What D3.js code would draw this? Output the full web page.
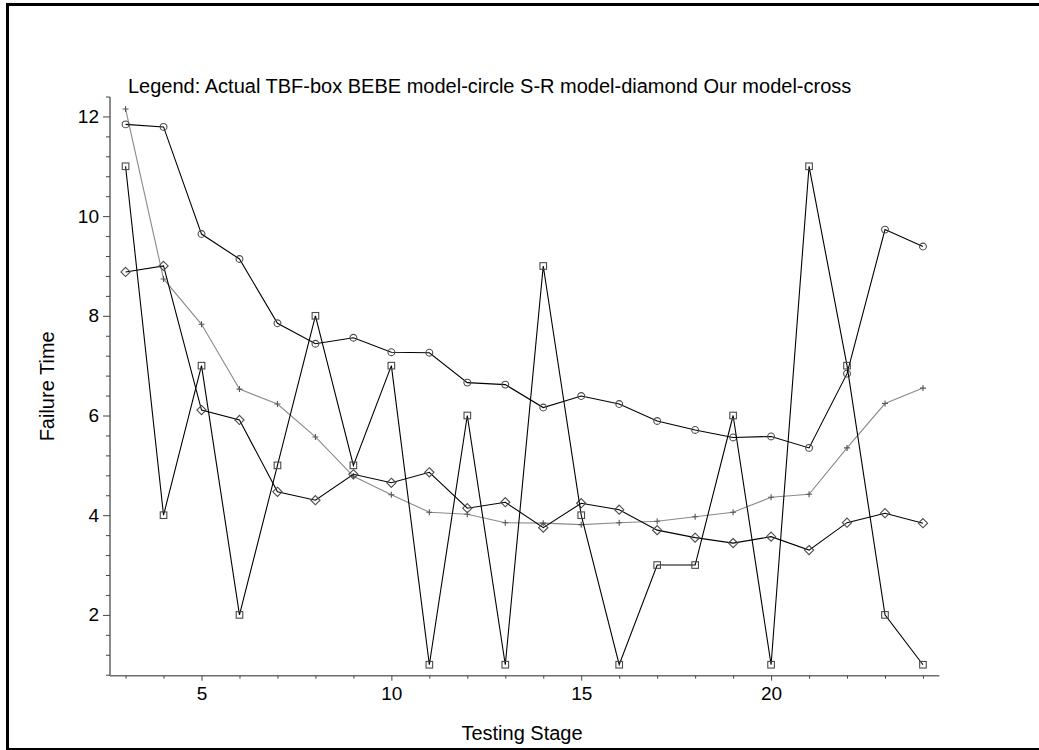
<!DOCTYPE html>
<html>
<head>
<meta charset="utf-8">
<script src="https://cdn.jsdelivr.net/npm/d3@7"></script>
<style>
  html, body { margin: 0; padding: 0; background: #fff; }
  svg { display: block; font-family: "Liberation Sans", Arial, sans-serif; }
</style>
</head>
<body>
<svg id="chart" width="1039" height="750"></svg>
<script>
// Testing stages (x values)
const stages = [3, 4, 5, 6, 7, 8, 9, 10, 11, 12, 13, 14, 15, 16, 17, 18, 19, 20, 21, 22, 23, 24];

// Actual time between failures (box markers)
const actualTBF = [11, 4, 7, 2, 5, 8, 5, 7, 1, 6, 1, 9, 4, 1, 3, 3, 6, 1, 11, 7, 2, 1];
// BEBE model estimates (circle markers)
const bebeModel = [11.84, 11.79, 9.64, 9.14, 7.85, 7.44, 7.56, 7.27, 7.26, 6.66, 6.62, 6.16, 6.39, 6.23, 5.89, 5.71, 5.56, 5.58, 5.35, 6.84, 9.73, 9.39];
// S-R model estimates (diamond markers)
const srModel = [8.88, 9.0, 6.11, 5.91, 4.47, 4.30, 4.82, 4.65, 4.86, 4.14, 4.26, 3.75, 4.24, 4.11, 3.70, 3.55, 3.44, 3.57, 3.30, 3.85, 4.04, 3.84];
// Our model estimates (cross markers)
const ourModel = [12.15, 8.74, 7.83, 6.53, 6.23, 5.57, 4.78, 4.41, 4.06, 4.02, 3.85, 3.84, 3.81, 3.85, 3.88, 3.97, 4.06, 4.36, 4.42, 5.35, 6.24, 6.55];

const xMajorTicks = [5, 10, 15, 20];
const yMajorTicks = [2, 4, 6, 8, 10, 12];

const legendText = "Legend: Actual TBF-box BEBE model-circle S-R model-diamond Our model-cross";
const xTitle = "Testing Stage";
const yTitle = "Failure Time";

const svg = d3.select("#chart");

// Outer frame
svg.append("rect")
  .attr("x", 7.5).attr("y", 4.5)
  .attr("width", 1040).attr("height", 745)
  .attr("fill", "none").attr("stroke", "#000").attr("stroke-width", 3);

const x = d3.scaleLinear().domain([2.59, 24.43]).range([110, 939.3]);
const y = d3.scaleLinear().domain([0.78, 12.39]).range([675.7, 97]);

const axisColor = "#6e6e6e";
const textSize = "20px";
const tickSize = "19px";

// Axes
const xMinor = d3.range(3, 25).filter(v => !xMajorTicks.includes(v));
const yMinor = d3.range(0.8, 12.41, 0.4).map(v => +v.toFixed(1)).filter(v => !yMajorTicks.includes(v));

const gx = svg.append("g").attr("transform", `translate(0,${y.range()[0]})`);
gx.call(d3.axisBottom(x).tickValues(xMajorTicks).tickSize(5).tickPadding(6).tickFormat(d3.format("d")));
gx.append("g").call(d3.axisBottom(x).tickValues(xMinor).tickSize(3).tickFormat(""));

const gy = svg.append("g").attr("transform", `translate(${x.range()[0]},0)`);
gy.call(d3.axisLeft(y).tickValues(yMajorTicks).tickSize(7).tickPadding(4).tickFormat(d3.format("d")));
gy.append("g").call(d3.axisLeft(y).tickValues(yMinor).tickSize(4).tickFormat(""));

svg.selectAll(".domain").attr("stroke", axisColor).attr("stroke-width", 1.6);
gx.selectAll(".domain").attr("d", `M${x.range()[0]},0H${x.range()[1]}`);
gy.selectAll(".domain").attr("d", `M0,${y.range()[0]}V${y.range()[1]}`);
gy.selectAll("g g .domain").remove();
gx.selectAll("g g .domain").remove();
svg.selectAll(".tick line").attr("stroke", "#444").attr("stroke-width", 1);
svg.selectAll(".tick text")
  .attr("fill", "#000")
  .style("font-size", tickSize)
  .style("font-family", "'Liberation Sans', Arial, sans-serif");

// Titles
svg.append("text")
  .attr("x", 128).attr("y", 93)
  .style("font-size", textSize)
  .text(legendText);

svg.append("text")
  .attr("x", 522).attr("y", 740)
  .attr("text-anchor", "middle")
  .style("font-size", textSize)
  .text(xTitle);

svg.append("text")
  .attr("transform", `translate(54,${(y.range()[0] + y.range()[1]) / 2}) rotate(-90)`)
  .attr("text-anchor", "middle")
  .style("font-size", textSize)
  .text(yTitle);

// Series
const line = d3.line().x(d => x(d[0])).y(d => y(d[1]));
const pts = vals => stages.map((s, i) => [s, vals[i]]);

const series = [
  { vals: ourModel, color: "#8a8a8a", marker: "cross" },
  { vals: srModel, color: "#000", marker: "diamond" },
  { vals: bebeModel, color: "#000", marker: "circle" },
  { vals: actualTBF, color: "#000", marker: "box" }
];

const markerStroke = "#4a4a4a";

series.forEach(s => {
  const data = pts(s.vals);
  svg.append("path")
    .datum(data)
    .attr("d", line)
    .attr("fill", "none")
    .attr("stroke", s.color)
    .attr("stroke-width", 1.1);

  const g = svg.append("g");
  const sel = g.selectAll("g").data(data).join("g")
    .attr("transform", d => `translate(${x(d[0])},${y(d[1])})`);

  if (s.marker === "box") {
    sel.append("rect").attr("x", -3.3).attr("y", -3.3).attr("width", 6.6).attr("height", 6.6)
      .attr("fill", "none").attr("stroke", markerStroke).attr("stroke-width", 1.1);
  } else if (s.marker === "circle") {
    sel.append("circle").attr("r", 3.4)
      .attr("fill", "none").attr("stroke", markerStroke).attr("stroke-width", 1.1);
  } else if (s.marker === "diamond") {
    sel.append("path").attr("d", "M0,-4.6L4.6,0L0,4.6L-4.6,0Z")
      .attr("fill", "none").attr("stroke", markerStroke).attr("stroke-width", 1.1);
  } else {
    sel.append("path").attr("d", "M-3,0H3M0,-3V3")
      .attr("fill", "none").attr("stroke", "#555").attr("stroke-width", 1.1);
  }
});
</script>
</body>
</html>
